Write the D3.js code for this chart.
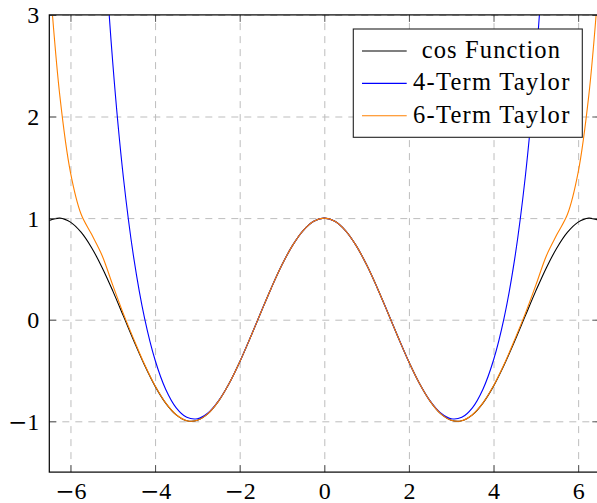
<!DOCTYPE html>
<html>
<head>
<meta charset="utf-8">
<script src="https://cdn.jsdelivr.net/npm/d3@7"></script>
<style>
    body { margin: 0; background: #fff; }
    svg { display: block; }
    .taylorPlot text { font-family: 'Liberation Serif', 'Times New Roman', serif; }
</style>
</head>
<body>
<svg class="taylorPlot"></svg>
<script>
// sample positions, -6.5 .. 6.5 every 0.25
const xs = [-6.5, -6.25, -6, -5.75, -5.5, -5.25, -5, -4.75, -4.5, -4.25, -4, -3.75, -3.5, -3.25, -3, -2.75, -2.5, -2.25, -2, -1.75, -1.5, -1.25, -1, -0.75, -0.5, -0.25,
    0, 0.25, 0.5, 0.75, 1, 1.25, 1.5, 1.75, 2, 2.25, 2.5, 2.75, 3, 3.25, 3.5, 3.75, 4, 4.25, 4.5, 4.75, 5, 5.25, 5.5, 5.75, 6, 6.25, 6.5];

const cosValues = [0.97659, 0.99945, 0.96017, 0.86119, 0.70867, 0.51208, 0.28366, 0.03760, -0.21080, -0.44609, -0.65364, -0.82056, -0.93646, -0.99413, -0.98999, -0.92430, -0.80114, -0.62817, -0.41615, -0.17825, 0.07074, 0.31532, 0.54030, 0.73169, 0.87758, 0.96891,
    1, 0.96891, 0.87758, 0.73169, 0.54030, 0.31532, 0.07074, -0.17825, -0.41615, -0.62817, -0.80114, -0.92430, -0.98999, -0.99413, -0.93646, -0.82056, -0.65364, -0.44609, -0.21080, 0.03760, 0.28366, 0.51208, 0.70867, 0.86119, 0.96017, 0.99945, 0.97659];

const taylor4Values = [28.533, 19.009, 13.857, 9.4556, 6.32462, 4.10437, 2.52852, 1.40463, 0.59835, 0.01792, -0.39683, -0.68399, -0.86704, -0.96065, -0.97478, -0.91786, -0.79864, -0.62729, -0.41587, -0.17817, 0.07075, 0.31532, 0.54030, 0.73169, 0.87758, 0.96891,
    1, 0.96891, 0.87758, 0.73169, 0.54030, 0.31532, 0.07075, -0.17817, -0.41587, -0.62729, -0.79864, -0.91786, -0.97478, -0.96065, -0.86704, -0.68399, -0.39683, 0.01792, 0.59835, 1.40463, 2.52852, 4.10437, 6.32462, 9.4556, 13.857, 19.009, 28.533];

const taylor6Values = [3.4, 2.2, 1.45, 1.04, 0.84, 0.63, 0.34, 0.06, -0.196, -0.4394, -0.65076, -0.81939, -0.93599, -0.99396, -0.98994, -0.92428, -0.80114, -0.62817, -0.41615, -0.17825, 0.07074, 0.31532, 0.54030, 0.73169, 0.87758, 0.96891,
    1, 0.96891, 0.87758, 0.73169, 0.54030, 0.31532, 0.07074, -0.17825, -0.41615, -0.62817, -0.80114, -0.92428, -0.98994, -0.99396, -0.93599, -0.81939, -0.65076, -0.4394, -0.196, 0.06, 0.34, 0.63, 0.84, 1.04, 1.45, 2.2, 3.4];

const xTicks = [-6, -4, -2, 0, 2, 4, 6];
const yTicks = [-1, 0, 1, 2, 3];
const seriesNames = ["cos Function", "4-Term Taylor", "6-Term Taylor"];
const seriesColors = ["#000000", "#0000ff", "#ff8000"];

function drawPlot() {
    const margin = {top: 14.9, left: 49.3},
        width = 550,
        height = 457.2;
    const font = "'Liberation Serif', 'Times New Roman', serif";

    const svg = d3.select(".taylorPlot")
        .attr("width", 597)
        .attr("height", 503)
        .append("g")
        .attr("transform", `translate(${margin.left},${margin.top})`);

    const x = d3.scaleLinear().domain([-6.5, 6.5]).range([0, width]);
    const y = d3.scaleLinear().domain([-1.5, 3]).range([height, 0]);

    // grid
    svg.append("g")
        .attr("class", "grid")
        .attr("transform", `translate(0,${height})`)
        .call(d3.axisBottom(x).tickValues(xTicks).tickSize(-height).tickFormat(""));
    svg.append("g")
        .attr("class", "grid")
        .call(d3.axisLeft(y).tickValues(yTicks).tickSize(-width).tickFormat(""));
    svg.selectAll(".grid .domain").remove();
    svg.selectAll(".grid text").remove();
    svg.selectAll(".grid line")
        .style("stroke", "#bdbdbd")
        .style("stroke-width", 1)
        .style("stroke-dasharray", "7,6");

    // curves
    svg.append("clipPath").attr("id", "plotClip")
        .append("rect").attr("width", width).attr("height", height);

    const allSeries = [cosValues, taylor4Values, taylor6Values];
    const line = d3.line()
        .x((d, i) => x(xs[i]))
        .y(d => y(d))
        .curve(d3.curveCatmullRom.alpha(0.5));

    svg.append("g")
        .attr("clip-path", "url(#plotClip)")
        .selectAll("path")
        .data(allSeries)
        .enter().append("path")
        .attr("d", d => line(d))
        .style("fill", "none")
        .style("stroke", (d, i) => seriesColors[i])
        .style("stroke-width", 1.1);

    // ticks
    const tickLen = 7;
    const xAxis = svg.append("g")
        .attr("class", "axis")
        .attr("transform", `translate(0,${height})`)
        .call(d3.axisBottom(x).tickValues(xTicks).tickFormat("").tickSize(-tickLen).tickPadding(0));
    xAxis.selectAll("text")
        .attr("y", 27)
        .attr("dy", 0);

    const yAxis = svg.append("g")
        .attr("class", "axis")
        .call(d3.axisLeft(y).tickValues(yTicks).tickFormat("").tickSize(-tickLen).tickPadding(10));
    yAxis.selectAll("text")
        .attr("x", -10)
        .attr("dy", "0.33em");

    // tick labels, with a wide TeX-like minus
    [xAxis, yAxis].forEach(ax => {
        ax.attr("font-family", null).attr("font-size", null);
        ax.selectAll("text").each(function(d) {
            const t = d3.select(this);
            if (d < 0) {
                t.append("tspan")
                    .style("font-family", "'DejaVu Serif', serif")
                    .style("font-size", "23px")
                    .text("\u2212");
            }
            t.append("tspan").text(Math.abs(d));
        })
        .style("font-size", "24px")
        .style("font-family", font)
        .style("fill", "#000");
    });

    const topAxis = svg.append("g")
        .attr("class", "axis")
        .call(d3.axisTop(x).tickValues(xTicks).tickSize(-tickLen).tickFormat(""));
    const rightAxis = svg.append("g")
        .attr("class", "axis")
        .attr("transform", `translate(${width},0)`)
        .call(d3.axisRight(y).tickValues(yTicks).tickSize(-tickLen).tickFormat(""));
    topAxis.selectAll("text").remove();
    rightAxis.selectAll("text").remove();

    svg.selectAll(".domain").remove();
    svg.selectAll(".axis .tick line")
        .style("stroke", "#555")
        .style("stroke-width", 1);

    // frame
    svg.append("rect")
        .attr("width", width)
        .attr("height", height)
        .style("fill", "none")
        .style("stroke", "#000")
        .style("stroke-width", 1.2);

    // Legend
    const legend = svg.append("g")
        .attr("transform", `translate(${353.3 - margin.left},${29 - margin.top})`);

    legend.append("rect")
        .attr("width", 229)
        .attr("height", 108.3)
        .style("fill", "#fff")
        .style("stroke", "#222")
        .style("stroke-width", 1.1);

    const textStart = [68.4, 59.7, 59.7];
    const textLen = [138.3, 156.3, 156.3];

    const rows = legend.selectAll(".legendRow")
        .data(seriesNames)
        .enter().append("g")
        .attr("class", "legendRow")
        .attr("transform", (d, i) => `translate(0,${22 + i * 32.4})`);

    rows.append("line")
        .attr("x1", 8.7)
        .attr("x2", 53.4)
        .style("stroke", (d, i) => seriesColors[i])
        .style("stroke-width", 1.1);

    rows.append("text")
        .attr("x", (d, i) => textStart[i])
        .attr("y", 6.8)
        .attr("textLength", (d, i) => textLen[i])
        .attr("lengthAdjust", "spacing")
        .text(d => d)
        .style("fill", "black")
        .style("font-size", "24.5px")
        .style("font-family", font);
}

drawPlot();
</script>
</body>
</html>
